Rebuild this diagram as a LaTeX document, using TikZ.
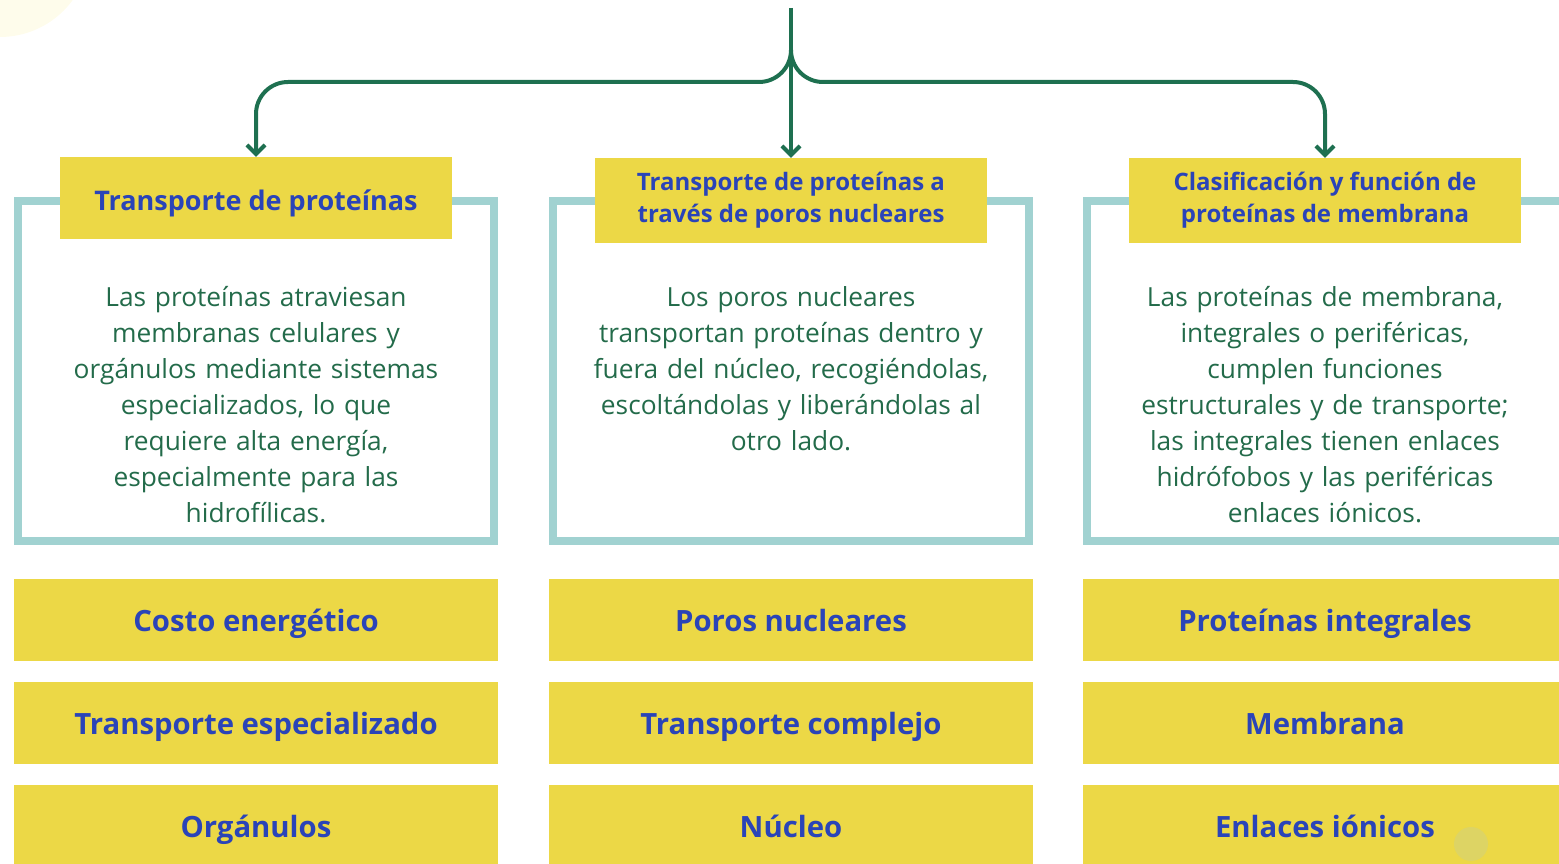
\documentclass[tikz,border=0pt]{standalone}
\usepackage{fontspec}
\setmainfont{Open Sans}
\usetikzlibrary{arrows.meta}
\definecolor{ygold}{HTML}{ECD846}
\definecolor{tealf}{HTML}{A1D2D1}
\definecolor{dgreen}{HTML}{1E7050}
\definecolor{tgreen}{HTML}{236B4A}
\definecolor{tblue}{HTML}{2A44B8}
\definecolor{paleyel}{HTML}{FEFCEB}
\definecolor{dotyel}{HTML}{DDD464}
\begin{document}
\begin{tikzpicture}[x=1pt,y=-1pt,
  tealframe/.style={draw=tealf, line width=8pt},
  titlebox/.style={fill=ygold, minimum width=392pt, font=\bfseries\fontsize{24}{32}\selectfont, text=tblue, align=center, inner sep=0pt},
  bodytext/.style={text=tgreen, font=\fontsize{26.3}{36}\selectfont, align=center, text width=480pt, anchor=base, inner sep=0pt},
  kwbox/.style={fill=ygold, minimum width=484pt, minimum height=82pt, font=\bfseries\fontsize{29.3}{36}\selectfont, text=tblue, inner sep=0pt, text height=22.5pt, text depth=0pt},
  conn/.style={draw=dgreen, line width=4pt, -{Straight Barb[length=9pt,width=18pt]}},
]
\useasboundingbox (0,0) rectangle (1559,864);
\clip (0,0) rectangle (1559,864);

% decorative circle
\fill[paleyel] (0,-53) circle (90);

% frames
\draw[tealframe] (18,201) rectangle (494,541);
\draw[tealframe] (553,201) rectangle (1029,541);
\draw[tealframe] (1087,201) rectangle (1563,541);

% title boxes
\node[titlebox, minimum height=82pt, font=\bfseries\fontsize{27}{32}\selectfont, text height=26pt, text depth=0pt] (t1) at (256,198) {Transporte de proteínas};
\node[titlebox, minimum height=85pt] (t2) at (791,200.5) {Transporte de proteínas a\\través de poros nucleares};
\node[titlebox, minimum height=85pt] (t3) at (1325,200.5) {Clasificación y función de\\proteínas de membrana};

% body texts
\node[bodytext] (b1) at (256,306) {Las proteínas atraviesan\\membranas celulares y\\orgánulos mediante sistemas\\especializados, lo que\\requiere alta energía,\\especialmente para las\\hidrofílicas.};
\node[bodytext] (b2) at (791,306) {Los poros nucleares\\transportan proteínas dentro y\\fuera del núcleo, recogiéndolas,\\escoltándolas y liberándolas al\\otro lado.};
\node[bodytext] (b3) at (1325,306) {Las proteínas de membrana,\\integrales o periféricas,\\cumplen funciones\\estructurales y de transporte;\\las integrales tienen enlaces\\hidrófobos y las periféricas\\enlaces iónicos.};

% keyword boxes
\node[kwbox] (k11) at (256,620) {Costo energético};
\node[kwbox] (k12) at (256,723) {Transporte especializado};
\node[kwbox] (k13) at (256,826) {Orgánulos};
\node[kwbox] (k21) at (791,620) {Poros nucleares};
\node[kwbox] (k22) at (791,723) {Transporte complejo};
\node[kwbox] (k23) at (791,826) {Núcleo};
\node[kwbox] (k31) at (1325,620) {Proteínas integrales};
\node[kwbox] (k32) at (1325,723) {Membrana};
\node[kwbox] (k33) at (1325,826) {Enlaces iónicos};

\fill[dotyel] (1471,844) circle (17);

% connectors
\coordinate (top) at (791,8);
\coordinate (split) at (791,50);
\coordinate (hub) at (791,82);
\draw[conn] (top) -- (t2.north);
\draw[conn, rounded corners=32pt] (split) -- (hub) -- (hub -| t1.north) -- (t1.north);
\draw[conn, rounded corners=32pt] (split) -- (hub) -- (hub -| t3.north) -- (t3.north);
\end{tikzpicture}
\end{document}
